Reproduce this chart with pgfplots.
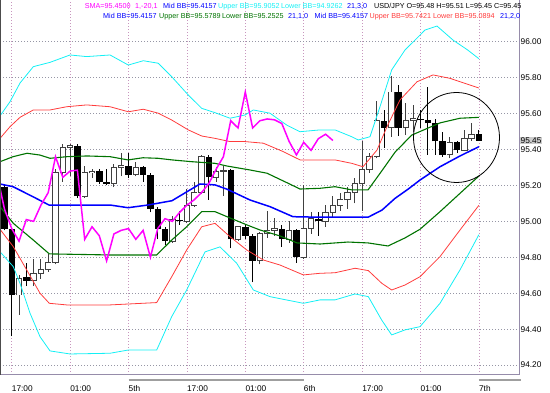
\documentclass[border=0pt]{standalone}
\usepackage{pgfplots}
\usepackage{pgfplotstable}
\pgfplotsset{compat=1.18}
\usepackage{fontspec}
\setmainfont{Liberation Sans}
\definecolor{bbcyan}{RGB}{20,240,245}
\definecolor{bbred}{RGB}{255,60,60}
\definecolor{bbgreen}{RGB}{0,115,0}
\definecolor{bbblue}{RGB}{0,0,255}
\definecolor{smamag}{RGB}{255,0,255}
\definecolor{gridh}{RGB}{150,150,165}
\definecolor{gridv}{RGB}{200,150,190}
\definecolor{framecol}{RGB}{150,140,170}
\newcommand{\hdr}{\fontsize{7.2}{8}\selectfont}
\newcommand{\tickf}{\fontsize{8.3}{9}\selectfont}
% bearish candles (close < open)
\pgfplotstableread{
i O H L C
-1 95.19 95.21 94.95 94.96
0 94.96 94.97 94.36 94.59
2 94.69 94.77 94.64 94.67
9 95.42 95.43 95.13 95.14
12 95.28 95.29 95.21 95.22
13 95.22 95.29 95.20 95.21
16 95.31 95.38 95.24 95.26
18 95.30 95.31 95.22 95.26
19 95.26 95.27 95.05 95.07
20 95.07 95.08 94.90 94.96
21 94.96 94.97 94.87 94.89
23 95.01 95.06 94.98 95.00
27 95.36 95.37 95.12 95.245
30 95.285 95.29 94.85 94.90
32 94.97 94.98 94.90 94.92
33 94.92 94.93 94.66 94.78
37 94.96 94.98 94.86 94.90
39 94.95 94.96 94.77 94.80
42 95.015 95.05 94.92 95.00
51 95.56 95.62 95.41 95.52
53 95.72 95.76 95.475 95.52
56 95.57 95.62 95.52 95.565
57 95.565 95.75 95.37 95.545
58 95.545 95.57 95.37 95.445
59 95.445 95.50 95.36 95.37
61 95.44 95.45 95.38 95.395
64 95.485 95.51 95.45 95.45
}\bear
% bullish candles (close > open)
\pgfplotstableread{
i O H L C
1 94.59 94.70 94.48 94.68
3 94.67 94.79 94.64 94.71
4 94.71 94.79 94.68 94.73
5 94.73 94.82 94.72 94.77
6 94.77 95.29 94.76 95.27
7 95.27 95.43 95.22 95.41
8 95.41 95.43 95.25 95.42
10 95.14 95.31 95.13 95.27
11 95.27 95.29 95.24 95.28
14 95.21 95.32 95.19 95.30
15 95.30 95.38 95.25 95.31
17 95.26 95.33 95.25 95.30
22 94.89 95.03 94.88 95.01
24 95.00 95.18 94.99 95.09
25 95.09 95.22 95.08 95.16
26 95.16 95.37 95.15 95.36
28 95.245 95.30 95.22 95.28
29 95.28 95.31 95.14 95.285
31 94.90 94.97 94.89 94.97
34 94.78 94.94 94.76 94.93
35 94.93 95.06 94.91 94.95
36 94.95 95.02 94.92 94.96
38 94.90 95.00 94.88 94.95
40 94.80 95.20 94.79 94.96
41 94.96 95.05 94.93 95.015
43 95.00 95.09 94.97 95.05
44 95.05 95.14 95.02 95.09
45 95.09 95.16 95.06 95.12
46 95.12 95.19 95.07 95.16
47 95.16 95.24 95.10 95.21
48 95.21 95.45 95.06 95.29
49 95.29 95.38 95.27 95.36
50 95.36 95.67 95.35 95.56
52 95.52 95.81 95.47 95.72
54 95.52 95.66 95.48 95.56
55 95.56 95.65 95.50 95.57
60 95.37 95.47 95.35 95.44
62 95.395 95.51 95.39 95.46
63 95.46 95.55 95.45 95.485
}\bull
\pgfplotsset{candle/.style={draw=none, no markers, forget plot,
  error bars/.cd, y dir=plus, y explicit, error mark=none}}
\begin{document}
\begin{tikzpicture}
\useasboundingbox (0pt,-18pt) rectangle (550pt,375pt);
\begin{axis}[
  at={(0pt,0pt)}, anchor=south west,
  width=519pt, height=375pt, scale only axis,
  xmin=-1.603, xmax=69.49, ymin=94.145, ymax=96.232,
  axis x line*=bottom, axis y line*=right,
  axis line style={-, draw=framecol, line width=1pt},
  xtick={0,8,16,24,32,40,48,56,64},
  xticklabels={17:00,01:00,5th,17:00,01:00,6th,17:00,01:00,7th},
  xticklabel style={anchor=north west, inner sep=0pt, text height=6pt, text depth=0pt, yshift=-10pt, font=\tickf},
  ytick={94.2,94.4,94.6,94.8,95.0,95.2,95.4,95.6,95.8,96.0},
  /pgf/number format/assume math mode=true,
  yticklabel={\pgfmathprintnumber[fixed,fixed zerofill,precision=2]{\tick}},
  yticklabel style={anchor=west, inner sep=0pt, xshift=1.5pt, font=\tickf},
  major tick length=0pt,
  grid=major,
  major x grid style={draw=gridv, line width=0.8pt, dash pattern=on 1pt off 2pt},
  major y grid style={draw=gridh, line width=0.8pt, dash pattern=on 1pt off 2pt},
]
% ---- wicks (low to high)
\addplot[candle, error bar style={draw=black, line width=0.9pt}]
  table[x=i, y=L, y error expr=\thisrow{H}-\thisrow{L}] {\bear};
\addplot[candle, error bar style={draw=black!75, line width=0.9pt}]
  table[x=i, y=L, y error expr=\thisrow{H}-\thisrow{L}] {\bull};
% ---- black bodies (close to open)
\addplot[candle, error bar style={draw=black, line width=6.4pt}]
  table[x=i, y=C, y error expr=\thisrow{O}-\thisrow{C}] {\bear};
% ---- white bodies: outline, then inside
\addplot[candle, error bar style={draw=black!75, line width=6.4pt}]
  table[x=i, y expr=\thisrow{O}-0.0025, y error expr=\thisrow{C}-\thisrow{O}+0.005] {\bull};
\addplot[candle, error bar style={draw=white, line width=4.6pt}]
  table[x=i, y expr=\thisrow{O}+0.0025, y error expr=\thisrow{C}-\thisrow{O}-0.005] {\bull};
% ---- Bollinger 3 sigma (cyan)
\addplot[bbcyan, line width=0.8pt] coordinates {(-1.60,95.587) (-0.23,95.666) (1.14,95.770) (2.96,95.861) (5.25,95.885) (7.99,95.926) (10.27,95.917) (13.47,95.926) (15.97,95.870) (18.03,95.894) (20.08,95.880) (21.92,95.805) (24.19,95.703) (26.03,95.629) (27.85,95.605) (29.90,95.574) (31.96,95.592) (33.10,95.620) (35.38,95.602) (37.67,95.536) (39.49,95.499) (42.23,95.509) (44.29,95.509) (46.58,95.471) (47.48,95.453) (49.08,95.471) (50.45,95.638) (52.05,95.843) (53.88,95.954) (55.25,96.009) (56.62,96.065) (58.26,96.087) (60.45,96.009) (62.45,95.954) (64,95.9052)};
\addplot[bbcyan, line width=0.8pt] coordinates {(-1.60,94.831) (0.22,94.748) (1.14,94.655) (2.51,94.489) (3.88,94.358) (5.25,94.279) (7.99,94.262) (13.47,94.266) (15.97,94.284) (19.86,94.284) (21.92,94.470) (23.97,94.618) (26.48,94.830) (28.53,94.858) (30.82,94.767) (33.10,94.618) (35.38,94.581) (39.95,94.544) (42.23,94.563) (44.29,94.563) (47.03,94.596) (48.85,94.581) (50.68,94.451) (52.05,94.368) (53.88,94.396) (55.93,94.414) (58.67,94.544) (61.41,94.730) (64,94.9262)};
% ---- Bollinger 2 sigma (red)
\addplot[bbred, line width=0.8pt] coordinates {(-1.60,95.462) (-0.23,95.527) (1.14,95.579) (2.96,95.620) (5.25,95.620) (7.53,95.638) (10.27,95.648) (13.47,95.638) (15.97,95.610) (18.03,95.624) (20.08,95.602) (21.92,95.564) (24.19,95.509) (26.03,95.475) (27.85,95.462) (29.90,95.444) (31.96,95.444) (34.47,95.435) (37.21,95.388) (39.49,95.342) (42.23,95.342) (44.29,95.342) (46.58,95.323) (48.12,95.304) (50.04,95.397) (51.41,95.527) (53.19,95.676) (55.52,95.777) (57.71,95.815) (60.04,95.796) (64,95.7421)};
\addplot[bbred, line width=0.8pt] coordinates {(-1.60,94.956) (0.22,94.859) (2.05,94.730) (3.88,94.600) (5.15,94.544) (7.53,94.535) (13.47,94.535) (19.86,94.548) (21.92,94.692) (23.97,94.841) (26.03,94.970) (27.85,94.989) (29.90,94.915) (32.19,94.841) (34.47,94.785) (36.75,94.757) (39.95,94.702) (42.23,94.711) (44.29,94.714) (47.03,94.739) (48.85,94.726) (50.68,94.656) (52.05,94.618) (53.88,94.646) (55.93,94.692) (58.67,94.804) (61.41,94.952) (64,95.0894)};
% ---- Bollinger 1 sigma (green)
\addplot[bbgreen, line width=1.1pt] coordinates {(-1.60,95.332) (0.18,95.360) (2.10,95.379) (3.88,95.369) (5.25,95.351) (7.58,95.360) (10.32,95.364) (13.47,95.360) (15.93,95.342) (17.99,95.354) (20.04,95.351) (21.96,95.342) (24.70,95.332) (27.85,95.323) (29.49,95.308) (32.64,95.286) (34.97,95.268) (37.71,95.215) (39.49,95.180) (42.23,95.184) (44.29,95.193) (46.62,95.175) (48.81,95.175) (50.68,95.28) (52.51,95.385) (54.79,95.48) (58.67,95.548) (61.41,95.574) (64,95.5789)};
\addplot[bbgreen, line width=1.1pt] coordinates {(-1.60,95.082) (0.22,94.989) (2.96,94.896) (5.15,94.819) (13.47,94.813) (19.86,94.813) (21.92,94.896) (23.97,94.970) (26.03,95.054) (27.85,95.054) (29.90,95.019) (32.23,94.980) (34.01,94.952) (36.75,94.919) (39.08,94.880) (42.23,94.874) (46.07,94.885) (48.81,94.880) (51.55,94.863) (53.88,94.908) (55.93,94.956) (58.67,95.054) (61.41,95.156) (64,95.2525)};
% ---- Mid band (blue)
\addplot[bbblue, line width=1.5pt] coordinates {(-1.60,95.208) (0.18,95.193) (2.92,95.137) (5.11,95.091) (13.47,95.091) (15.93,95.076) (18.67,95.091) (21.96,95.115) (24.01,95.165) (25.79,95.208) (27.85,95.203) (29.49,95.179) (32.64,95.119) (35.38,95.082) (38.53,95.026) (42.23,95.023) (48.81,95.023) (50.73,95.063) (52.51,95.128) (54.29,95.179) (55.93,95.230) (58.67,95.304) (61.41,95.364) (64,95.4157)};
% ---- SMA(1) shifted -20 (magenta)
\addplot[smamag, line width=1.5pt] coordinates {(-2,95.26) (-1,95.07) (0,94.96) (1,94.89) (2,95.01) (3,95.00) (4,95.09) (5,95.16) (6,95.36) (7,95.245) (8,95.28) (9,95.285) (10,94.90) (11,94.97) (12,94.92) (13,94.78) (14,94.93) (15,94.95) (16,94.96) (17,94.90) (18,94.95) (19,94.80) (20,94.96) (21,95.015) (22,95.00) (23,95.05) (24,95.09) (25,95.12) (26,95.16) (27,95.21) (28,95.29) (29,95.36) (30,95.56) (31,95.52) (32,95.72) (33,95.52) (34,95.56) (35,95.57) (36,95.565) (37,95.545) (38,95.445) (39,95.37) (40,95.44) (41,95.395) (42,95.46) (43,95.485) (44,95.45)};
\end{axis}
% annotation circle
\draw[black, line width=0.8pt] (456.5pt,237.5pt) ellipse [x radius=43pt, y radius=45pt];
% left frame line
\draw[black!70, line width=1pt] (0pt,0pt) -- (0pt,375pt);
% day range bars under the axis
\draw[gray!75, line width=1.6pt] (128.5pt,-4.8pt) -- (303.7pt,-4.8pt);
\draw[gray!75, line width=1.6pt] (478.9pt,-4.8pt) -- (521pt,-4.8pt);
% current price tag
\node[anchor=west, fill=gray!40, inner sep=0.5pt, font=\tickf] at (520pt,234.5pt) {95.45};
% header row 1
\node[anchor=base west, inner sep=0pt, font=\hdr, text=smamag] at (84.6pt,366.5pt) {SMA=95.4500};
\node[anchor=base west, inner sep=0pt, font=\hdr, text=smamag] at (135pt,366.5pt) {1,-20,1};
\node[anchor=base west, inner sep=0pt, font=\hdr, text=bbblue] at (163pt,366.5pt) {Mid BB=95.4157};
\node[anchor=base west, inner sep=0pt, font=\hdr, text=bbcyan] at (218pt,366.5pt) {Upper BB=95.9052};
\node[anchor=base west, inner sep=0pt, font=\hdr, text=bbcyan] at (281pt,366.5pt) {Lower BB=94.9262};
\node[anchor=base west, inner sep=0pt, font=\hdr, text=bbblue] at (347pt,366.5pt) {21,3,0};
\node[anchor=base west, inner sep=0pt, font=\hdr, text=black] at (374pt,366.5pt) {USD/JPY O=95.48 H=95.51 L=95.45 C=95.45};
% header row 2
\node[anchor=base west, inner sep=0pt, font=\hdr, text=bbblue] at (103pt,356pt) {Mid BB=95.4157};
\node[anchor=base west, inner sep=0pt, font=\hdr, text=bbgreen] at (159pt,356pt) {Upper BB=95.5789};
\node[anchor=base west, inner sep=0pt, font=\hdr, text=bbgreen] at (222pt,356pt) {Lower BB=95.2525};
\node[anchor=base west, inner sep=0pt, font=\hdr, text=bbblue] at (288pt,356pt) {21,1,0};
\node[anchor=base west, inner sep=0pt, font=\hdr, text=bbblue] at (314.5pt,356pt) {Mid BB=95.4157};
\node[anchor=base west, inner sep=0pt, font=\hdr, text=bbred] at (369.5pt,356pt) {Upper BB=95.7421};
\node[anchor=base west, inner sep=0pt, font=\hdr, text=bbred] at (433pt,356pt) {Lower BB=95.0894};
\node[anchor=base west, inner sep=0pt, font=\hdr, text=bbblue] at (500pt,356pt) {21,2,0};
\end{tikzpicture}
\end{document}
